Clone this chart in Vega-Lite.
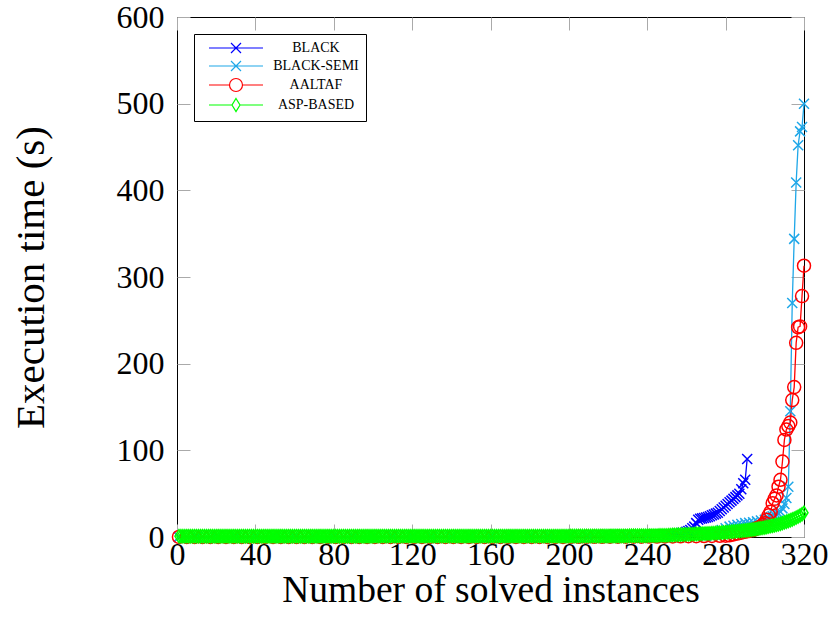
{
  "$schema": "https://vega.github.io/schema/vega-lite/v6.json",
  "width": 627,
  "height": 520,
  "autosize": {"type": "none"},
  "padding": {"left": 177, "top": 17, "right": 29, "bottom": 100},
  "background": "white",
  "config": {
    "view": {"stroke": "black", "strokeWidth": 1},
    "axis": {
      "labelFont": "Liberation Serif", "labelFontSize": 32, "labelColor": "black",
      "titleFont": "Liberation Serif", "titleFontSize": 38, "titleFontWeight": "normal", "titleColor": "black",
      "tickColor": "#aaaaaa", "tickSize": -13, "tickWidth": 1, "domain": false, "grid": false
    }
  },
  "data": {"values": [
    {"s":"B","x":1,"y":0.1},{"s":"B","x":10,"y":0.1},{"s":"B","x":20,"y":0.1},{"s":"B","x":30,"y":0.2},{"s":"B","x":40,"y":0.2},{"s":"B","x":50,"y":0.2},{"s":"B","x":60,"y":0.2},{"s":"B","x":70,"y":0.3},{"s":"B","x":80,"y":0.3},{"s":"B","x":90,"y":0.3},{"s":"B","x":100,"y":0.3},{"s":"B","x":110,"y":0.4},{"s":"B","x":120,"y":0.4},{"s":"B","x":130,"y":0.4},{"s":"B","x":140,"y":0.5},{"s":"B","x":150,"y":0.5},{"s":"B","x":160,"y":0.5},{"s":"B","x":170,"y":0.6},{"s":"B","x":180,"y":0.6},{"s":"B","x":190,"y":0.7},{"s":"B","x":200,"y":0.8},{"s":"B","x":210,"y":0.9},{"s":"B","x":220,"y":1},{"s":"B","x":230,"y":1.2},{"s":"B","x":240,"y":1.5},{"s":"B","x":250,"y":2},
    {"s":"B","x":252,"y":2.5},{"s":"B","x":254,"y":3},{"s":"B","x":256,"y":4},{"s":"B","x":258,"y":5},{"s":"B","x":260,"y":6},{"s":"B","x":261,"y":7},{"s":"B","x":262,"y":8},{"s":"B","x":263,"y":10},{"s":"B","x":264,"y":12},{"s":"B","x":265,"y":16},{"s":"B","x":266,"y":20},{"s":"B","x":267,"y":21},{"s":"B","x":268,"y":21.5},{"s":"B","x":269,"y":22},{"s":"B","x":270,"y":22.5},{"s":"B","x":271,"y":23},{"s":"B","x":272,"y":24},{"s":"B","x":273,"y":25},{"s":"B","x":274,"y":26},{"s":"B","x":275,"y":27},{"s":"B","x":276,"y":28},{"s":"B","x":277,"y":30},{"s":"B","x":278,"y":32},{"s":"B","x":279,"y":34},{"s":"B","x":280,"y":36},{"s":"B","x":281,"y":38},{"s":"B","x":282,"y":40},{"s":"B","x":283,"y":42},{"s":"B","x":284,"y":44},{"s":"B","x":285,"y":46},{"s":"B","x":286,"y":48},{"s":"B","x":287,"y":50},{"s":"B","x":288,"y":55},{"s":"B","x":289,"y":62},{"s":"B","x":290,"y":66},{"s":"B","x":291,"y":90},
    {"s":"S","x":1,"y":0.1},{"s":"S","x":10,"y":0.1},{"s":"S","x":20,"y":0.1},{"s":"S","x":30,"y":0.1},{"s":"S","x":40,"y":0.2},{"s":"S","x":50,"y":0.2},{"s":"S","x":60,"y":0.2},{"s":"S","x":70,"y":0.2},{"s":"S","x":80,"y":0.3},{"s":"S","x":90,"y":0.3},{"s":"S","x":100,"y":0.3},{"s":"S","x":110,"y":0.3},{"s":"S","x":120,"y":0.4},{"s":"S","x":130,"y":0.4},{"s":"S","x":140,"y":0.4},{"s":"S","x":150,"y":0.5},{"s":"S","x":160,"y":0.5},{"s":"S","x":170,"y":0.5},{"s":"S","x":180,"y":0.6},{"s":"S","x":190,"y":0.6},{"s":"S","x":200,"y":0.7},{"s":"S","x":210,"y":0.7},{"s":"S","x":220,"y":0.8},{"s":"S","x":230,"y":0.8},{"s":"S","x":240,"y":0.9},{"s":"S","x":250,"y":0.9},{"s":"S","x":260,"y":1},{"s":"S","x":270,"y":1},
    {"s":"S","x":272,"y":2},{"s":"S","x":274,"y":3},{"s":"S","x":276,"y":5},{"s":"S","x":278,"y":8},{"s":"S","x":280,"y":10},{"s":"S","x":282,"y":12},{"s":"S","x":284,"y":13},{"s":"S","x":286,"y":14},{"s":"S","x":288,"y":15},{"s":"S","x":290,"y":16},{"s":"S","x":292,"y":16.5},{"s":"S","x":294,"y":17},{"s":"S","x":296,"y":18},{"s":"S","x":298,"y":19},{"s":"S","x":300,"y":20},{"s":"S","x":301,"y":21},{"s":"S","x":302,"y":22},{"s":"S","x":303,"y":23},{"s":"S","x":304,"y":24},{"s":"S","x":305,"y":25},{"s":"S","x":306,"y":26},{"s":"S","x":307,"y":27},{"s":"S","x":308,"y":29},{"s":"S","x":309,"y":33},{"s":"S","x":310,"y":38},{"s":"S","x":311,"y":45},{"s":"S","x":312,"y":58},{"s":"S","x":313,"y":145},{"s":"S","x":314,"y":270},{"s":"S","x":315,"y":344},{"s":"S","x":316,"y":409},{"s":"S","x":317,"y":452},{"s":"S","x":318,"y":468},{"s":"S","x":319,"y":473},{"s":"S","x":320,"y":500},
    {"s":"A","x":1,"y":0.1},{"s":"A","x":5,"y":0.1},{"s":"A","x":9,"y":0.1},{"s":"A","x":13,"y":0.1},{"s":"A","x":17,"y":0.1},{"s":"A","x":21,"y":0.1},{"s":"A","x":25,"y":0.1},{"s":"A","x":29,"y":0.1},{"s":"A","x":33,"y":0.1},{"s":"A","x":37,"y":0.1},{"s":"A","x":41,"y":0.1},{"s":"A","x":45,"y":0.1},{"s":"A","x":49,"y":0.1},{"s":"A","x":53,"y":0.1},{"s":"A","x":57,"y":0.1},{"s":"A","x":61,"y":0.1},{"s":"A","x":65,"y":0.1},{"s":"A","x":69,"y":0.1},{"s":"A","x":73,"y":0.1},{"s":"A","x":77,"y":0.1},{"s":"A","x":81,"y":0.1},{"s":"A","x":85,"y":0.1},{"s":"A","x":89,"y":0.1},{"s":"A","x":93,"y":0.1},{"s":"A","x":97,"y":0.1},{"s":"A","x":101,"y":0.1},{"s":"A","x":105,"y":0.1},{"s":"A","x":109,"y":0.1},{"s":"A","x":113,"y":0.1},{"s":"A","x":117,"y":0.1},{"s":"A","x":121,"y":0.1},{"s":"A","x":125,"y":0.1},{"s":"A","x":129,"y":0.1},{"s":"A","x":133,"y":0.1},{"s":"A","x":137,"y":0.1},{"s":"A","x":141,"y":0.1},{"s":"A","x":145,"y":0.1},{"s":"A","x":149,"y":0.1},{"s":"A","x":153,"y":0.1},{"s":"A","x":157,"y":0.1},{"s":"A","x":161,"y":0.1},{"s":"A","x":165,"y":0.1},{"s":"A","x":169,"y":0.1},{"s":"A","x":173,"y":0.1},{"s":"A","x":177,"y":0.1},{"s":"A","x":181,"y":0.1},{"s":"A","x":185,"y":0.1},{"s":"A","x":189,"y":0.1},{"s":"A","x":193,"y":0.1},{"s":"A","x":197,"y":0.1},{"s":"A","x":201,"y":0.2},{"s":"A","x":205,"y":0.2},{"s":"A","x":209,"y":0.2},{"s":"A","x":213,"y":0.2},{"s":"A","x":217,"y":0.2},{"s":"A","x":221,"y":0.3},{"s":"A","x":225,"y":0.3},{"s":"A","x":229,"y":0.3},{"s":"A","x":233,"y":0.4},{"s":"A","x":237,"y":0.4},{"s":"A","x":241,"y":0.5},{"s":"A","x":245,"y":0.5},{"s":"A","x":249,"y":0.6},{"s":"A","x":253,"y":0.7},{"s":"A","x":257,"y":0.8},{"s":"A","x":261,"y":0.9},{"s":"A","x":265,"y":1},{"s":"A","x":269,"y":1.1},{"s":"A","x":273,"y":1.2},{"s":"A","x":277,"y":1.4},
    {"s":"A","x":280,"y":1.5},{"s":"A","x":282,"y":2},{"s":"A","x":284,"y":3},{"s":"A","x":286,"y":4},{"s":"A","x":288,"y":5},{"s":"A","x":290,"y":6},{"s":"A","x":292,"y":7},{"s":"A","x":294,"y":8},{"s":"A","x":295,"y":9},{"s":"A","x":296,"y":10},{"s":"A","x":297,"y":11},{"s":"A","x":298,"y":12},{"s":"A","x":299,"y":14},{"s":"A","x":300,"y":16},{"s":"A","x":301,"y":20},{"s":"A","x":302,"y":25},{"s":"A","x":303,"y":29},{"s":"A","x":304,"y":39},{"s":"A","x":305,"y":44},{"s":"A","x":306,"y":48},{"s":"A","x":307,"y":58},{"s":"A","x":308,"y":66},{"s":"A","x":309,"y":87},{"s":"A","x":310,"y":112},{"s":"A","x":311,"y":124},{"s":"A","x":312,"y":128},{"s":"A","x":313,"y":132},{"s":"A","x":314,"y":158},{"s":"A","x":315,"y":173},{"s":"A","x":316,"y":224},{"s":"A","x":317,"y":242},{"s":"A","x":318,"y":243},{"s":"A","x":319,"y":278},{"s":"A","x":320,"y":313},
    {"s":"P","x":1,"y":0.9},{"s":"P","x":2,"y":0.9},{"s":"P","x":3,"y":0.9},{"s":"P","x":4,"y":0.9},{"s":"P","x":5,"y":0.9},{"s":"P","x":6,"y":0.9},{"s":"P","x":7,"y":0.9},{"s":"P","x":8,"y":0.9},{"s":"P","x":9,"y":0.9},{"s":"P","x":10,"y":0.9},
    {"s":"P","x":11,"y":0.9},{"s":"P","x":12,"y":0.9},{"s":"P","x":13,"y":0.9},{"s":"P","x":14,"y":0.9},{"s":"P","x":15,"y":0.9},{"s":"P","x":16,"y":0.9},{"s":"P","x":17,"y":0.9},{"s":"P","x":18,"y":0.9},{"s":"P","x":19,"y":0.9},{"s":"P","x":20,"y":0.9},
    {"s":"P","x":21,"y":0.9},{"s":"P","x":22,"y":0.9},{"s":"P","x":23,"y":0.9},{"s":"P","x":24,"y":0.9},{"s":"P","x":25,"y":0.9},{"s":"P","x":26,"y":0.9},{"s":"P","x":27,"y":0.9},{"s":"P","x":28,"y":0.9},{"s":"P","x":29,"y":0.9},{"s":"P","x":30,"y":0.9},
    {"s":"P","x":31,"y":0.9},{"s":"P","x":32,"y":0.9},{"s":"P","x":33,"y":0.9},{"s":"P","x":34,"y":0.9},{"s":"P","x":35,"y":0.9},{"s":"P","x":36,"y":0.9},{"s":"P","x":37,"y":0.9},{"s":"P","x":38,"y":0.9},{"s":"P","x":39,"y":0.9},{"s":"P","x":40,"y":0.9},
    {"s":"P","x":41,"y":0.9},{"s":"P","x":42,"y":0.9},{"s":"P","x":43,"y":0.9},{"s":"P","x":44,"y":0.9},{"s":"P","x":45,"y":0.9},{"s":"P","x":46,"y":0.9},{"s":"P","x":47,"y":0.9},{"s":"P","x":48,"y":0.9},{"s":"P","x":49,"y":0.9},{"s":"P","x":50,"y":0.9},
    {"s":"P","x":51,"y":0.9},{"s":"P","x":52,"y":0.9},{"s":"P","x":53,"y":0.9},{"s":"P","x":54,"y":0.9},{"s":"P","x":55,"y":0.9},{"s":"P","x":56,"y":0.9},{"s":"P","x":57,"y":0.9},{"s":"P","x":58,"y":0.9},{"s":"P","x":59,"y":0.9},{"s":"P","x":60,"y":0.9},
    {"s":"P","x":61,"y":0.9},{"s":"P","x":62,"y":0.9},{"s":"P","x":63,"y":0.9},{"s":"P","x":64,"y":0.9},{"s":"P","x":65,"y":0.9},{"s":"P","x":66,"y":0.9},{"s":"P","x":67,"y":0.9},{"s":"P","x":68,"y":0.9},{"s":"P","x":69,"y":0.9},{"s":"P","x":70,"y":0.9},
    {"s":"P","x":71,"y":0.9},{"s":"P","x":72,"y":0.9},{"s":"P","x":73,"y":0.9},{"s":"P","x":74,"y":0.9},{"s":"P","x":75,"y":0.9},{"s":"P","x":76,"y":0.9},{"s":"P","x":77,"y":0.9},{"s":"P","x":78,"y":0.9},{"s":"P","x":79,"y":0.9},{"s":"P","x":80,"y":0.9},
    {"s":"P","x":81,"y":0.9},{"s":"P","x":82,"y":0.9},{"s":"P","x":83,"y":0.9},{"s":"P","x":84,"y":0.9},{"s":"P","x":85,"y":0.9},{"s":"P","x":86,"y":0.9},{"s":"P","x":87,"y":0.9},{"s":"P","x":88,"y":0.9},{"s":"P","x":89,"y":0.9},{"s":"P","x":90,"y":0.9},
    {"s":"P","x":91,"y":0.9},{"s":"P","x":92,"y":0.9},{"s":"P","x":93,"y":0.9},{"s":"P","x":94,"y":0.9},{"s":"P","x":95,"y":0.9},{"s":"P","x":96,"y":0.9},{"s":"P","x":97,"y":0.9},{"s":"P","x":98,"y":0.9},{"s":"P","x":99,"y":0.9},{"s":"P","x":100,"y":0.9},
    {"s":"P","x":101,"y":1},{"s":"P","x":102,"y":1},{"s":"P","x":103,"y":1},{"s":"P","x":104,"y":1},{"s":"P","x":105,"y":1},{"s":"P","x":106,"y":1},{"s":"P","x":107,"y":1},{"s":"P","x":108,"y":1},{"s":"P","x":109,"y":1},{"s":"P","x":110,"y":1},
    {"s":"P","x":111,"y":1},{"s":"P","x":112,"y":1},{"s":"P","x":113,"y":1},{"s":"P","x":114,"y":1},{"s":"P","x":115,"y":1},{"s":"P","x":116,"y":1},{"s":"P","x":117,"y":1},{"s":"P","x":118,"y":1},{"s":"P","x":119,"y":1},{"s":"P","x":120,"y":1},
    {"s":"P","x":121,"y":1},{"s":"P","x":122,"y":1},{"s":"P","x":123,"y":1},{"s":"P","x":124,"y":1},{"s":"P","x":125,"y":1},{"s":"P","x":126,"y":1},{"s":"P","x":127,"y":1},{"s":"P","x":128,"y":1},{"s":"P","x":129,"y":1},{"s":"P","x":130,"y":1},
    {"s":"P","x":131,"y":1},{"s":"P","x":132,"y":1},{"s":"P","x":133,"y":1},{"s":"P","x":134,"y":1},{"s":"P","x":135,"y":1},{"s":"P","x":136,"y":1},{"s":"P","x":137,"y":1},{"s":"P","x":138,"y":1},{"s":"P","x":139,"y":1},{"s":"P","x":140,"y":1},
    {"s":"P","x":141,"y":1},{"s":"P","x":142,"y":1},{"s":"P","x":143,"y":1},{"s":"P","x":144,"y":1},{"s":"P","x":145,"y":1},{"s":"P","x":146,"y":1},{"s":"P","x":147,"y":1},{"s":"P","x":148,"y":1},{"s":"P","x":149,"y":1},{"s":"P","x":150,"y":1},
    {"s":"P","x":151,"y":1},{"s":"P","x":152,"y":1},{"s":"P","x":153,"y":1},{"s":"P","x":154,"y":1},{"s":"P","x":155,"y":1},{"s":"P","x":156,"y":1},{"s":"P","x":157,"y":1},{"s":"P","x":158,"y":1},{"s":"P","x":159,"y":1},{"s":"P","x":160,"y":1},
    {"s":"P","x":161,"y":1},{"s":"P","x":162,"y":1},{"s":"P","x":163,"y":1},{"s":"P","x":164,"y":1},{"s":"P","x":165,"y":1},{"s":"P","x":166,"y":1},{"s":"P","x":167,"y":1},{"s":"P","x":168,"y":1},{"s":"P","x":169,"y":1},{"s":"P","x":170,"y":1},
    {"s":"P","x":171,"y":1},{"s":"P","x":172,"y":1},{"s":"P","x":173,"y":1},{"s":"P","x":174,"y":1},{"s":"P","x":175,"y":1},{"s":"P","x":176,"y":1},{"s":"P","x":177,"y":1},{"s":"P","x":178,"y":1},{"s":"P","x":179,"y":1},{"s":"P","x":180,"y":1},
    {"s":"P","x":181,"y":1},{"s":"P","x":182,"y":1},{"s":"P","x":183,"y":1},{"s":"P","x":184,"y":1},{"s":"P","x":185,"y":1},{"s":"P","x":186,"y":1},{"s":"P","x":187,"y":1},{"s":"P","x":188,"y":1},{"s":"P","x":189,"y":1},{"s":"P","x":190,"y":1},
    {"s":"P","x":191,"y":1},{"s":"P","x":192,"y":1},{"s":"P","x":193,"y":1},{"s":"P","x":194,"y":1},{"s":"P","x":195,"y":1},{"s":"P","x":196,"y":1},{"s":"P","x":197,"y":1},{"s":"P","x":198,"y":1},{"s":"P","x":199,"y":1},{"s":"P","x":200,"y":1},
    {"s":"P","x":201,"y":1.1},{"s":"P","x":202,"y":1.1},{"s":"P","x":203,"y":1.1},{"s":"P","x":204,"y":1.1},{"s":"P","x":205,"y":1.1},{"s":"P","x":206,"y":1.1},{"s":"P","x":207,"y":1.1},{"s":"P","x":208,"y":1.1},{"s":"P","x":209,"y":1.1},{"s":"P","x":210,"y":1.1},
    {"s":"P","x":211,"y":1.1},{"s":"P","x":212,"y":1.1},{"s":"P","x":213,"y":1.1},{"s":"P","x":214,"y":1.1},{"s":"P","x":215,"y":1.1},{"s":"P","x":216,"y":1.1},{"s":"P","x":217,"y":1.1},{"s":"P","x":218,"y":1.1},{"s":"P","x":219,"y":1.1},{"s":"P","x":220,"y":1.1},
    {"s":"P","x":221,"y":1.2},{"s":"P","x":222,"y":1.2},{"s":"P","x":223,"y":1.2},{"s":"P","x":224,"y":1.2},{"s":"P","x":225,"y":1.2},{"s":"P","x":226,"y":1.2},{"s":"P","x":227,"y":1.2},{"s":"P","x":228,"y":1.2},{"s":"P","x":229,"y":1.2},{"s":"P","x":230,"y":1.2},
    {"s":"P","x":231,"y":1.4},{"s":"P","x":232,"y":1.4},{"s":"P","x":233,"y":1.4},{"s":"P","x":234,"y":1.4},{"s":"P","x":235,"y":1.4},{"s":"P","x":236,"y":1.4},{"s":"P","x":237,"y":1.4},{"s":"P","x":238,"y":1.4},{"s":"P","x":239,"y":1.4},{"s":"P","x":240,"y":1.4},
    {"s":"P","x":241,"y":1.6},{"s":"P","x":242,"y":1.6},{"s":"P","x":243,"y":1.6},{"s":"P","x":244,"y":1.6},{"s":"P","x":245,"y":1.6},{"s":"P","x":246,"y":1.9},{"s":"P","x":247,"y":1.9},{"s":"P","x":248,"y":1.9},{"s":"P","x":249,"y":1.9},{"s":"P","x":250,"y":1.9},
    {"s":"P","x":251,"y":2.1},{"s":"P","x":252,"y":2.2},{"s":"P","x":253,"y":2.3},{"s":"P","x":254,"y":2.4},{"s":"P","x":255,"y":2.5},{"s":"P","x":256,"y":2.6},{"s":"P","x":257,"y":2.7},{"s":"P","x":258,"y":2.8},{"s":"P","x":259,"y":2.9},{"s":"P","x":260,"y":3},
    {"s":"P","x":261,"y":3.1},{"s":"P","x":262,"y":3.2},{"s":"P","x":263,"y":3.3},{"s":"P","x":264,"y":3.4},{"s":"P","x":265,"y":3.5},{"s":"P","x":266,"y":3.6},{"s":"P","x":267,"y":3.7},{"s":"P","x":268,"y":3.8},{"s":"P","x":269,"y":3.9},{"s":"P","x":270,"y":4},
    {"s":"P","x":271,"y":4.1},{"s":"P","x":272,"y":4.2},{"s":"P","x":273,"y":4.4},{"s":"P","x":274,"y":4.5},{"s":"P","x":275,"y":4.6},{"s":"P","x":276,"y":4.8},{"s":"P","x":277,"y":5},{"s":"P","x":278,"y":5.1},{"s":"P","x":279,"y":5.3},{"s":"P","x":280,"y":5.5},
    {"s":"P","x":281,"y":5.7},{"s":"P","x":282,"y":5.9},{"s":"P","x":283,"y":6.1},{"s":"P","x":284,"y":6.3},{"s":"P","x":285,"y":6.5},{"s":"P","x":286,"y":6.7},{"s":"P","x":287,"y":6.9},{"s":"P","x":288,"y":7.1},{"s":"P","x":289,"y":7.3},{"s":"P","x":290,"y":7.5},
    {"s":"P","x":291,"y":7.8},{"s":"P","x":292,"y":8.1},{"s":"P","x":293,"y":8.4},{"s":"P","x":294,"y":8.7},{"s":"P","x":295,"y":9},{"s":"P","x":296,"y":9.4},{"s":"P","x":297,"y":9.8},{"s":"P","x":298,"y":10.2},{"s":"P","x":299,"y":10.6},{"s":"P","x":300,"y":11},
    {"s":"P","x":301,"y":11.5},{"s":"P","x":302,"y":12},{"s":"P","x":303,"y":12.5},{"s":"P","x":304,"y":13},{"s":"P","x":305,"y":13.5},{"s":"P","x":306,"y":14},{"s":"P","x":307,"y":14.6},{"s":"P","x":308,"y":15.2},{"s":"P","x":309,"y":16},{"s":"P","x":310,"y":16.8},
    {"s":"P","x":311,"y":17.6},{"s":"P","x":312,"y":18.4},{"s":"P","x":313,"y":19.3},{"s":"P","x":314,"y":20.2},{"s":"P","x":315,"y":21.2},{"s":"P","x":316,"y":22.3},{"s":"P","x":317,"y":23.5},{"s":"P","x":318,"y":24.8},{"s":"P","x":319,"y":26.2},{"s":"P","x":320,"y":28}
  ]},
  "layer": [
    {
      "mark": {"type": "line", "strokeWidth": 1.3, "clip": false},
      "encoding": {
        "x": {"field": "x", "type": "quantitative", "scale": {"domain": [0, 320], "nice": false, "zero": false},
              "axis": {"orient": "bottom", "values": [0,40,80,120,160,200,240,280,320], "title": "Number of solved instances", "labelPadding": 15, "titlePadding": 1, "titleFontSize": 37.5, "labelFlush": false}},
        "y": {"field": "y", "type": "quantitative", "scale": {"domain": [0, 600], "nice": false},
              "axis": {"orient": "left", "values": [0,100,200,300,400,500,600], "title": "Execution time (s)", "labelPadding": 26, "titlePadding": 64, "titleFontSize": 41, "labelFlush": false}},
        "color": {"field": "s", "type": "nominal", "scale": {"domain": ["B","S","A","P"], "range": ["#0000ff","#1ea7e8","#ff0000","#00ff00"]},
          "legend": {
            "title": null, "orient": "top-left", "offset": 17, "padding": 7,
            "strokeColor": "black", "fillColor": "white", "cornerRadius": 0,
            "labelFont": "Liberation Serif", "labelFontSize": 14, "labelColor": "black",
            "labelExpr": "datum.value == 'B' ? 'BLACK' : datum.value == 'S' ? 'BLACK-SEMI' : datum.value == 'A' ? 'AALTAF' : 'ASP-BASED'",
            "labelAlign": "center", "labelOffset": 73, "symbolOffset": 28, "symbolSize": 100, "symbolStrokeWidth": 1.2, "rowPadding": 2,
            "encode": {"symbols": {"update": {
              "shape": {"signal": "datum.value == 'A' ? 'M-5.4,0H-1.3M1.3,0H5.4M1.3,0A1.3,1.3 0 1 1 -1.3,0A1.3,1.3 0 1 1 1.3,0' : datum.value == 'P' ? 'M-5.4,0H-0.8M0.8,0H5.4M0,-1.3L0.8,0L0,1.3L-0.8,0Z' : 'M-5.4,0H5.4M-1,-1L1,1M-1,1L1,-1'"},
              "fill": {"value": "transparent"}
            }}}
          }},
        "detail": {"field": "s"},
        "order": {"field": "x", "type": "quantitative"}
      }
    },
    {
      "transform": [{"filter": "datum.s == 'B'"}],
      "mark": {"type": "point", "filled": false, "strokeWidth": 1.5, "size": 100, "opacity": 1, "clip": false, "stroke": "#0000ff", "shape": "M-1,-1L1,1M-1,1L1,-1"},
      "encoding": {
        "x": {"field": "x", "type": "quantitative", "axis": {"orient": "top", "values": [0,40,80,120,160,200,240,280,320], "labels": false, "title": null}},
        "y": {"field": "y", "type": "quantitative", "axis": {"orient": "right", "values": [0,100,200,300,400,500,600], "labels": false, "title": null}}
      }
    },
    {
      "transform": [{"filter": "datum.s == 'S'"}],
      "mark": {"type": "point", "filled": false, "strokeWidth": 1.5, "size": 100, "opacity": 1, "clip": false, "stroke": "#1ea7e8", "shape": "M-1,-1L1,1M-1,1L1,-1"},
      "encoding": {
        "x": {"field": "x", "type": "quantitative", "axis": null},
        "y": {"field": "y", "type": "quantitative", "axis": null}
      }
    },
    {
      "transform": [{"filter": "datum.s == 'A'"}],
      "mark": {"type": "point", "filled": false, "strokeWidth": 1.5, "size": 100, "opacity": 1, "clip": false, "stroke": "#ff0000", "shape": "M1.3,0A1.3,1.3 0 1 1 -1.3,0A1.3,1.3 0 1 1 1.3,0Z"},
      "encoding": {
        "x": {"field": "x", "type": "quantitative", "axis": null},
        "y": {"field": "y", "type": "quantitative", "axis": null}
      }
    },
    {
      "transform": [{"filter": "datum.s == 'P'"}],
      "mark": {"type": "point", "filled": false, "strokeWidth": 1.5, "size": 100, "opacity": 1, "clip": false, "stroke": "#00ff00", "shape": "M0,-1.3L0.8,0L0,1.3L-0.8,0Z"},
      "encoding": {
        "x": {"field": "x", "type": "quantitative", "axis": null},
        "y": {"field": "y", "type": "quantitative", "axis": null}
      }
    }
  ],
  "resolve": {"axis": {"x": "independent", "y": "independent"}}
}
